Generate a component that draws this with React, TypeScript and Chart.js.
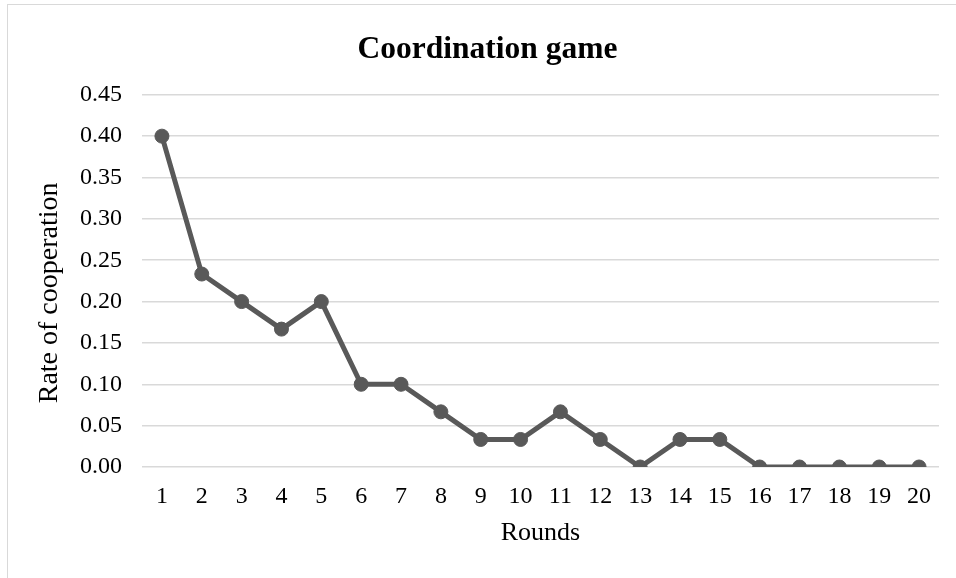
import React, { useEffect, useRef } from "react";
import { Chart, registerables } from "chart.js";

Chart.register(...registerables);

const rounds = ["1","2","3","4","5","6","7","8","9","10","11","12","13","14","15","16","17","18","19","20"];
const cooperationRate = [0.4, 0.2333, 0.2, 0.1667, 0.2, 0.1, 0.1, 0.0667, 0.0333, 0.0333, 0.0667, 0.0333, 0, 0.0333, 0.0333, 0, 0, 0, 0, 0];
const chartTitle = "Coordination game";
const xTitle = "Rounds";
const yTitle = "Rate of cooperation";

const serif = "'Liberation Serif', 'Times New Roman', serif";

const yTitlePlugin = {
  id: "yTitlePlugin",
  afterDraw(chart: any) {
    const ctx = chart.ctx;
    const area = chart.chartArea;
    ctx.save();
    ctx.font = `28px ${serif}`;
    ctx.fillStyle = "#000000";
    ctx.textAlign = "center";
    ctx.textBaseline = "middle";
    ctx.translate(50, (area.top + area.bottom) / 2 + 12);
    ctx.rotate(-Math.PI / 2);
    ctx.fillText(yTitle, 0, 0);
    ctx.restore();
  },
};

export default function App() {
  const ref = useRef<HTMLCanvasElement | null>(null);
  useEffect(() => {
    if (!ref.current) return;
    const chart = new Chart(ref.current, {
      type: "line",
      data: {
        labels: rounds,
        datasets: [
          {
            data: cooperationRate,
            borderColor: "#595959",
            backgroundColor: "#595959",
            borderWidth: 5,
            pointRadius: 7,
            pointBorderWidth: 1,
            pointBackgroundColor: "#595959",
            pointBorderColor: "#595959",
            tension: 0,
          },
        ],
      },
      options: {
        responsive: false,
        animation: false,
        layout: { padding: { left: 36, right: 17, top: 12, bottom: 25 } },
        plugins: {
          legend: { display: false },
          tooltip: { enabled: false },
          title: {
            display: true,
            text: chartTitle,
            color: "#000000",
            font: { family: serif, size: 31.5, weight: "bold", lineHeight: 1.2 },
            padding: { top: 19, bottom: 26 },
          },
        },
        scales: {
          x: {
            offset: true,
            grid: { display: false, drawTicks: false },
            border: { display: false },
            ticks: { color: "#000000", font: { family: serif, size: 24 }, padding: 15, maxRotation: 0, autoSkip: false },
            title: { display: true, text: xTitle, color: "#000000", font: { family: serif, size: 26, lineHeight: 1.2 }, padding: 4 },
            afterFit: (s: any) => { s.height = 86; },
          },
          y: {
            min: 0,
            max: 0.45,
            grid: { color: "#d9d9d9", lineWidth: 1.5, drawTicks: false },
            border: { display: false },
            ticks: {
              stepSize: 0.05,
              color: "#000000",
              font: { family: serif, size: 24 },
              padding: 20,
              callback: (v: any) => Number(v).toFixed(2),
            },
            title: { display: false },
            afterFit: (s: any) => { s.width = 106; },
          },
        },
      },
      plugins: [yTitlePlugin],
    });
    return () => chart.destroy();
  }, []);
  return (
    <div style={{ position: "fixed", left: 0, top: 0, width: 956, height: 578, overflow: "hidden", background: "#ffffff" }}>
      <div style={{ position: "absolute", left: 7, top: 4, width: 1000, height: 1000, border: "1px solid #d9d9d9" }} />
      <canvas ref={ref} width={956} height={578} style={{ position: "absolute", left: 0, top: 0, width: 956, height: 578 }} />
    </div>
  );
}
